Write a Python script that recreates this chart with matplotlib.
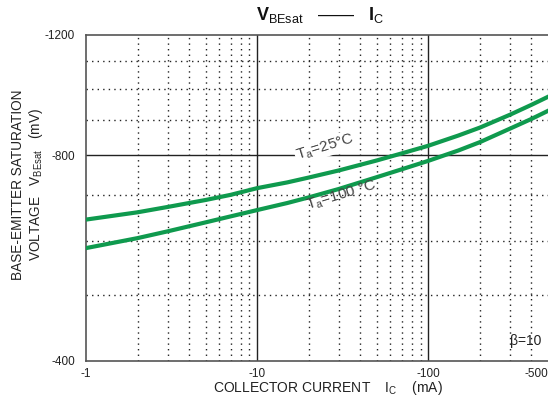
import numpy as np
import matplotlib.pyplot as plt
from matplotlib.ticker import FixedLocator, NullFormatter

plt.rcParams['font.family'] = ['Liberation Sans', 'DejaVu Sans']
plt.rcParams['mathtext.fontset'] = 'custom'
plt.rcParams['mathtext.rm'] = 'Liberation Sans'
plt.rcParams['mathtext.bf'] = 'Liberation Sans:bold'

# collector current magnitude (mA) and V_BEsat magnitude (mV)
ic = np.array([1, 2, 3, 5, 7, 10, 15, 20, 30, 50, 70, 100, 150, 200, 300, 400, 500])
vbe_25 = np.array([644, 660, 672, 688, 700, 716, 730, 742, 760, 786, 805, 826,
                   855, 878, 917, 948, 974])
vbe_100 = np.array([585, 605, 619, 638, 651, 665, 681, 694, 714, 743, 763, 785,
                    813, 836, 875, 904, 929])

x_ticks = [1, 10, 100, 500]
x_labels = ['-1', '-10', '-100', '-500']
y_ticks = [400, 800, 1200]
y_labels = ['-400', '-800', '-1200']

green = '#0f9a4e'
grey = '#444444'

fig = plt.figure(figsize=(5.48, 4.01), dpi=100)
ax = fig.add_axes([0.157, 0.1, 0.843, 0.813])

ax.set_xscale('log')
ax.set_yscale('log')
ax.set_xlim(1, 500)
ax.set_ylim(400, 1200)

ax.xaxis.set_major_locator(FixedLocator(x_ticks))
ax.set_xticklabels(x_labels)
ax.get_xticklabels()[-1].set_ha('right')
ax.xaxis.set_minor_locator(FixedLocator([2, 3, 4, 5, 6, 7, 8, 9,
                                         20, 30, 40, 50, 60, 70, 80, 90,
                                         200, 300, 400]))
ax.xaxis.set_minor_formatter(NullFormatter())
ax.yaxis.set_major_locator(FixedLocator(y_ticks))
ax.set_yticklabels(y_labels)
ax.yaxis.set_minor_locator(FixedLocator([500, 600, 700, 900, 1000, 1100]))
ax.yaxis.set_minor_formatter(NullFormatter())

ax.tick_params(which='both', length=0, labelsize=8.5, colors='#222222')
ax.tick_params(axis='x', pad=5)
ax.tick_params(axis='y', pad=8)

# grid: solid at decades / -800, dotted elsewhere
for xv in [10, 100]:
    ax.axvline(xv, color='#222222', lw=1.0, zorder=1)
ax.axhline(800, color='#222222', lw=1.0, zorder=1)
ax.grid(which='minor', color='#222222', lw=1.0, linestyle=(0, (1, 3)), zorder=1)

for s in ['left', 'bottom', 'top']:
    ax.spines[s].set_color('#555555')
    ax.spines[s].set_linewidth(1.2)
ax.spines['right'].set_visible(False)

ax.plot(ic, vbe_25, color=green, lw=3, zorder=3, solid_joinstyle='round')
ax.plot(ic, vbe_100, color=green, lw=3, zorder=3, solid_joinstyle='round')

ax.text(25, 822, r'T$_{\mathrm{a}}$=25°C', rotation=17, fontsize=11, color=grey,
        ha='center', va='center', zorder=4,
        bbox=dict(facecolor='white', edgecolor='none', pad=1))
ax.text(31, 698, r'T$_{\mathrm{a}}$=100 °C', rotation=17, fontsize=11, color=grey,
        ha='center', va='center', zorder=4)
ax.text(0.985, 0.06, 'β=10', transform=ax.transAxes, fontsize=10,
        color='#222222', ha='right', va='center')

fig.text(0.584, 0.962, r'$\mathbf{V}_{\mathrm{BEsat}}$   ——   $\mathbf{I}_{\mathrm{C}}$',
         fontsize=13, ha='center', va='center', color='#111111')

fig.text(0.598, 0.032, r'COLLECTOR CURRENT    I$_{\mathrm{C}}$    (mA)',
         fontsize=10, ha='center', va='center', color='#222222')
fig.text(0.033, 0.54, 'BASE-EMITTER SATURATION', rotation=90, fontsize=9.8,
         ha='center', va='center', color='#222222')
fig.text(0.066, 0.54, r'VOLTAGE   V$_{\mathrm{BEsat}}$   (mV)', rotation=90, fontsize=9.8,
         ha='center', va='center', color='#222222')

fig.savefig('out.png', dpi=100)
